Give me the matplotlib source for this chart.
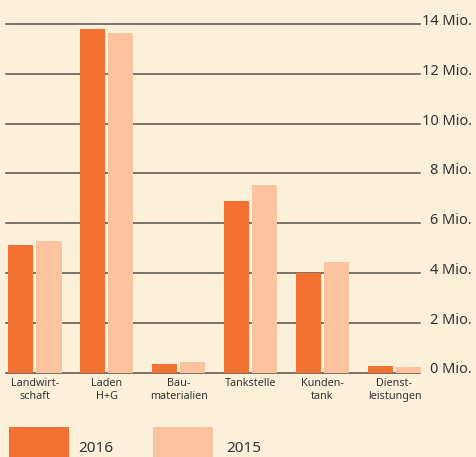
import numpy as np
import matplotlib.pyplot as plt
from matplotlib.patches import Rectangle
from matplotlib.transforms import blended_transform_factory

# data (Mio.)
categories = ['Landwirt-\nschaft', 'Laden\nH+G', 'Bau-\nmaterialien', 'Tankstelle', 'Kunden-\ntank', 'Dienst-\nleistungen']
values_2016 = [5.13, 13.78, 0.34, 6.90, 3.99, 0.26]
values_2015 = [5.29, 13.62, 0.42, 7.54, 4.44, 0.22]
series_labels = ['2016', '2015']
yticks = [0, 2, 4, 6, 8, 10, 12, 14]
ytick_labels = ['%d Mio.' % v for v in yticks]

bg = '#fdf0db'
c2016 = '#f37133'
c2015 = '#fbc49e'
txt = '#333333'

plt.rcParams['font.family'] = ['Noto Sans', 'DejaVu Sans']

W, H = 476, 457
fig = plt.figure(figsize=(W / 100, H / 100), dpi=100, facecolor=bg)
ax = fig.add_axes([6 / W, 84.5 / H, 414 / W, (372.5 - 24) / H])
ax.set_facecolor(bg)

x = np.arange(len(categories))
w = 0.348
off = 0.195
ax.bar(x - off, values_2016, w, color=c2016, zorder=3, clip_on=False)
ax.bar(x + off, values_2015, w, color=c2015, zorder=3, clip_on=False)

ax.set_xlim(-0.403, 5.355)
ax.set_ylim(0, 14)

for v in yticks:
    ax.axhline(v, color='#55504b', lw=1.1, zorder=1, clip_on=False)

trans = blended_transform_factory(fig.transFigure, ax.transData)
for v, lab in zip(yticks, ytick_labels):
    ax.text(472 / W, v - 0.04, lab, transform=trans, ha='right', va='baseline',
            fontsize=10.5, color=txt)

ax.set_xticks(x)
ax.set_xticklabels(categories, fontsize=7.8, color=txt, linespacing=1.3)
ax.tick_params(axis='x', length=0, pad=4)
ax.set_yticks([])
for s in ax.spines.values():
    s.set_visible(False)

# legend boxes
fig.add_artist(Rectangle((9 / W, 0), 60 / W, 30 / H, transform=fig.transFigure,
                         color=c2016, lw=0))
fig.add_artist(Rectangle((153 / W, 0), 60 / W, 30 / H, transform=fig.transFigure,
                         color=c2015, lw=0))
fig.text(78 / W, 1 / H, series_labels[0], fontsize=11, color=txt, va='bottom')
fig.text(226 / W, 1 / H, series_labels[1], fontsize=11, color=txt, va='bottom')

fig.savefig('out.png', dpi=100, facecolor=bg)
